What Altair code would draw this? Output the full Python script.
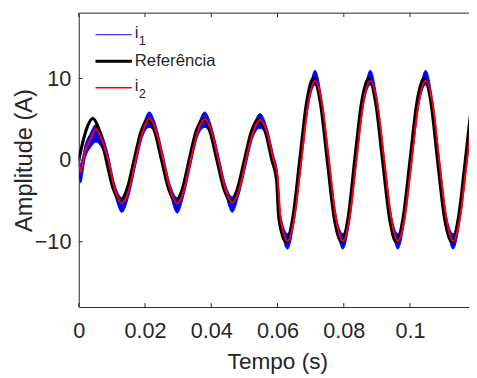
import altair as alt
import pandas as pd

# ---- data ----
T_REF = [0, 0.0021, 0.0042, 0.0063, 0.0083, 0.0104, 0.0125, 0.0146, 0.0167, 0.0188,
         0.0208, 0.0229, 0.0250, 0.0271, 0.0292, 0.0313, 0.0333, 0.0354, 0.0375, 0.0396,
         0.0417, 0.0438, 0.0458, 0.0479, 0.0500, 0.0521, 0.0542, 0.0563, 0.0583, 0.0597,
         0.0604, 0.0625, 0.0646, 0.0667, 0.0688, 0.0708, 0.0729, 0.0750, 0.0771, 0.0792,
         0.0813, 0.0833, 0.0854, 0.0875, 0.0896, 0.0917, 0.0938, 0.0958, 0.0979, 0.1000,
         0.1021, 0.1042, 0.1063, 0.1083, 0.1104, 0.1125, 0.1146, 0.1167, 0.1188, 0.1208]
REF = [0, 3.5, 5.1, 3.5, 0, -3.5, -4.9, -3.5, 0, 3.5,
       5.0, 3.5, 0, -3.5, -5.0, -3.5, 0, 3.5, 5.0, 3.5,
       0, -3.5, -5.0, -3.5, 0, 3.5, 5.0, 3.5, 0, -2.4,
       -7.1, -10, -7.1, 0, 7.1, 10, 7.1, 0, -7.1, -10,
       -7.1, 0, 7.1, 10, 7.1, 0, -7.1, -10, -7.1, 0,
       7.1, 10, 7.1, 0, -7.1, -10, -7.1, 0, 7.1, 10]

T_MEAS = [0, 0.0005, 0.0020, 0.0035, 0.0052, 0.0068, 0.0088, 0.0109, 0.0130, 0.0151,
          0.0172, 0.0193, 0.0213, 0.0234, 0.0255, 0.0276, 0.0297, 0.0318, 0.0338, 0.0359,
          0.0380, 0.0401, 0.0422, 0.0443, 0.0463, 0.0484, 0.0505, 0.0526, 0.0547, 0.0568,
          0.0588, 0.0600, 0.0609, 0.0630, 0.0651, 0.0672, 0.0693, 0.0713, 0.0734, 0.0755,
          0.0776, 0.0797, 0.0818, 0.0838, 0.0859, 0.0880, 0.0901, 0.0922, 0.0943, 0.0963,
          0.0984, 0.1005, 0.1026, 0.1047, 0.1068, 0.1088, 0.1109, 0.1130, 0.1151, 0.1172,
          0.1193, 0.1213]
I2 = [0.3, -1.5, 1.2, 2.5, 3.8, 2.6, 0.2, -3.6, -5.3, -3.7,
      0, 3.5, 5.1, 3.5, 0, -3.6, -5.3, -3.6, 0, 3.5,
      5.0, 3.5, 0, -3.6, -5.2, -3.6, 0, 3.4, 4.9, 3.4,
      0, -2.0, -7.0, -9.9, -7.0, 0, 7.0, 9.7, 7.0, 0,
      -7.0, -9.9, -7.0, 0, 7.0, 9.7, 7.0, 0, -7.0, -9.9,
      -7.0, 0, 7.0, 9.7, 7.0, 0, -7.0, -9.9, -7.0, 0,
      7.0, 9.7]
I1_HI = [0.8, -0.5, 2.0, 3.3, 4.4, 3.4, 0.8, -3.0, -4.6, -3.0,
         0.6, 4.1, 5.9, 4.1, 0.6, -3.0, -4.6, -3.0, 0.6, 4.1,
         5.9, 4.1, 0.6, -3.0, -4.5, -3.0, 0.6, 4.0, 5.7, 4.0,
         0.6, -1.5, -6.6, -9.0, -6.6, 0.4, 7.4, 11.0, 7.4, 0.4,
         -6.6, -9.0, -6.6, 0.4, 7.4, 11.0, 7.4, 0.4, -6.6, -9.0,
         -6.6, 0.4, 7.4, 11.0, 7.4, 0.4, -6.6, -9.0, -6.6, 0.4,
         7.4, 11.0]
I1_LO = [-0.5, -2.8, 0.3, 1.5, 2.2, 1.6, -0.6, -4.3, -6.4, -4.4,
         -0.6, 2.9, 4.0, 2.9, -0.6, -4.2, -6.5, -4.2, -0.6, 2.9,
         4.0, 2.9, -0.6, -4.2, -6.4, -4.2, -0.6, 2.8, 3.9, 2.8,
         -0.6, -2.6, -7.4, -10.9, -7.4, -0.4, 6.6, 9.2, 6.6, -0.4,
         -7.4, -10.9, -7.4, -0.4, 6.6, 9.2, 6.6, -0.4, -7.4, -10.9,
         -7.4, -0.4, 6.6, 9.2, 6.6, -0.4, -7.4, -10.9, -7.4, -0.4,
         6.6, 9.2]

X_TICKS = [0, 0.02, 0.04, 0.06, 0.08, 0.1]
Y_TICKS = [-10, 0, 10]
LEGEND = ["Referência"]

ref_df = pd.DataFrame({"t": T_REF, "v": REF})
meas_df = pd.DataFrame({"t": T_MEAS, "i2": I2, "hi": I1_HI, "lo": I1_LO})
xt_df = pd.DataFrame({"t": X_TICKS})
yt_df = pd.DataFrame({"v": Y_TICKS})
one = pd.DataFrame({"a": [0]})

W, H = 397, 299
FONT = "Liberation Sans"
AX = "#262626"

x_scale = alt.Scale(domain=[0, 0.1178], nice=False, zero=False)
y_scale = alt.Scale(domain=[-18, 18], nice=False, zero=False)

x_axis = alt.Axis(values=X_TICKS, format="~g", ticks=False, tickSize=0, grid=False,
                  domainColor=AX, domainWidth=1, labelFont=FONT, labelFontSize=22,
                  labelColor=AX, labelPadding=31, labelBaseline="alphabetic",
                  labelFlush=False,
                  title="Tempo (s)", titleFont=FONT, titleFontSize=23,
                  titleFontWeight="normal", titleColor=AX, titleX=202, titleY=63,
                  titleBaseline="alphabetic", titleAlign="center")
y_axis = alt.Axis(values=Y_TICKS, format="d", ticks=False, tickSize=0, grid=False,
                  domainColor=AX, domainWidth=1, labelFont=FONT, labelFontSize=22,
                  labelColor=AX, labelPadding=8,
                  title="Amplitude (A)", titleFont=FONT, titleFontSize=24,
                  titleFontWeight="normal", titleColor=AX, titleX=-55, titleY=H / 2,
                  titleAngle=270, titleBaseline="middle", titleAlign="center")

blue = alt.Chart(meas_df).mark_area(
    color="#0000ff", stroke="#0000ff", strokeWidth=1, interpolate="monotone",
    clip=True, opacity=1
).encode(
    x=alt.X("t:Q", scale=x_scale, axis=x_axis),
    y=alt.Y("lo:Q", scale=y_scale, axis=y_axis),
    y2="hi:Q",
)

black = alt.Chart(ref_df).mark_line(
    color="black", strokeWidth=3.2, interpolate="monotone", clip=True
).encode(x="t:Q", y="v:Q")

red = alt.Chart(meas_df).mark_line(
    color="#ff0000", strokeWidth=2, interpolate="monotone", clip=True
).encode(x="t:Q", y="i2:Q")

top_border = alt.Chart(one).mark_rule(color=AX, strokeWidth=1).encode(
    x=alt.value(0), x2=alt.value(W), y=alt.value(0))

bt = alt.Chart(xt_df).mark_rule(color=AX, strokeWidth=1).encode(
    x="t:Q", y=alt.value(H), y2=alt.value(H - 4))
tt = alt.Chart(xt_df).mark_rule(color=AX, strokeWidth=1).encode(
    x="t:Q", y=alt.value(0), y2=alt.value(4))
lt = alt.Chart(yt_df).mark_rule(color=AX, strokeWidth=1).encode(
    y="v:Q", x=alt.value(0), x2=alt.value(4))

# legend
def leg_line(color, width, ypix):
    return alt.Chart(one).mark_rule(color=color, strokeWidth=width).encode(
        x=alt.value(17), x2=alt.value(54), y=alt.value(ypix))

def leg_text(txt, xpix, ypix, size):
    return alt.Chart(one).mark_text(
        text=txt, font=FONT, fontSize=size, color=AX, align="left", baseline="middle"
    ).encode(x=alt.value(xpix), y=alt.value(ypix))

legend = [
    leg_line("#0000ff", 1, 22), leg_text("i", 57, 20, 17), leg_text("1", 61, 28, 13),
    leg_line("black", 3.2, 49), leg_text(LEGEND[0], 57, 49, 17),
    leg_line("#ff0000", 1.5, 76), leg_text("i", 57, 74, 17), leg_text("2", 61, 82, 13),
]

chart = alt.layer(blue, black, red, top_border, bt, tt, lt, *legend).properties(
    width=W, height=H,
    autosize=alt.AutoSizeParams(type="none"),
    padding={"left": 72, "top": 2, "right": 0, "bottom": 69},
).configure_view(stroke=None)

chart.save("out.html", embed_options={"renderer": "svg", "actions": False})
